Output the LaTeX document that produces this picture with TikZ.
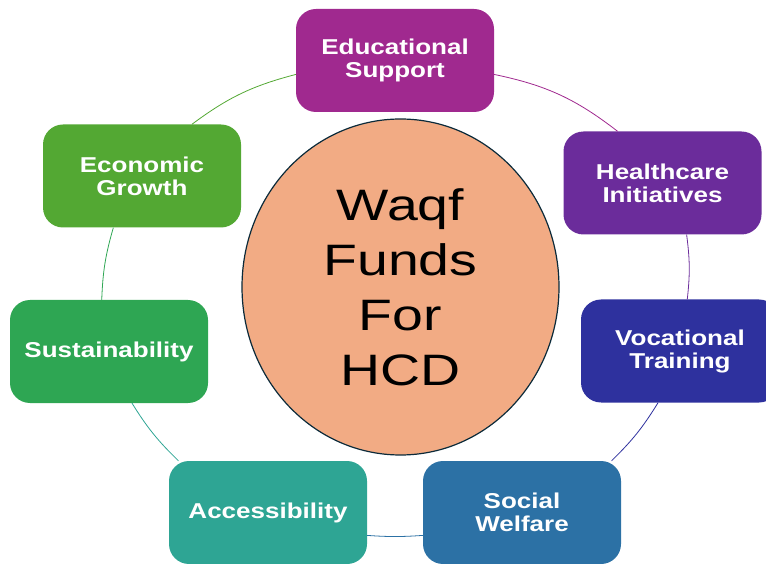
\documentclass[tikz,border=0pt]{standalone}
\usepackage{fontspec}
\setmainfont{Liberation Sans}
\newfontfamily\boxfont[FakeStretch=1.21]{Liberation Sans}
\newfontfamily\hubfont[FakeStretch=1.26]{Liberation Sans}
\usepackage{tikz}
\usetikzlibrary{shapes}
\definecolor{educ}{RGB}{160, 41, 143}
\definecolor{health}{RGB}{107, 44, 155}
\definecolor{vocat}{RGB}{46, 49, 158}
\definecolor{social}{RGB}{44, 113, 165}
\definecolor{access}{RGB}{46, 165, 148}
\definecolor{sustain}{RGB}{46, 166, 83}
\definecolor{econ}{RGB}{83, 168, 51}
\definecolor{hubfill}{RGB}{242, 171, 132}
\definecolor{hubline}{RGB}{11, 42, 58}

\begin{document}
\begin{tikzpicture}[
   x=1pt, y=1pt,
   box/.style={rectangle, rounded corners=20, fill=#1, text=white,
               minimum width=198, minimum height=103, inner sep=0,
               align=center, font=\boxfont\bfseries\fontsize{21.5}{23}\selectfont},
   hub/.style={ellipse, draw=hubline, fill=hubfill, line width=1.2,
               minimum width=317, minimum height=336, inner sep=0,
               align=center, font=\hubfont\fontsize{44}{55}\selectfont}
  ]

  \useasboundingbox (0, 0) rectangle (766, 563);

  % Centre
  \node (N0) at (400.5, 276) [hub] {Waqf\\Funds\\For\\HCD};

  % Ring of boxes, clockwise from the top
  \node (N1) at (395, 502.5) [box=educ] {Educational\\Support};
  \node (N2) at (662.5, 380) [box=health] {Healthcare\\Initiatives};
  \node (N3) at (680, 212) [box=vocat] {Vocational\\Training};
  \node (N4) at (522, 50.5) [box=social] {Social\\Welfare};
  \node (N5) at (268, 50.5) [box=access] {Accessibility};
  \node (N6) at (109, 211.5) [box=sustain] {Sustainability};
  \node (N7) at (142, 387) [box=econ] {Economic\\Growth};

  \foreach \B/\b/\E/\e/\C/\k in {N1/-8/N2/131/educ/13, N2/-65/N3/82/health/7,
                                 N3/-113/N4/30/vocat/7, N4/193/N5/-13/social/4,
                                 N5/150/N6/-66/access/7, N6/98/N7/241/sustain/7,
                                 N7/46/N1/188/econ/11} {
    \draw[color=\C, line width=0.8] (\B.\b) to[bend left=\k] (\E.\e);
  }

\end{tikzpicture}
\end{document}
